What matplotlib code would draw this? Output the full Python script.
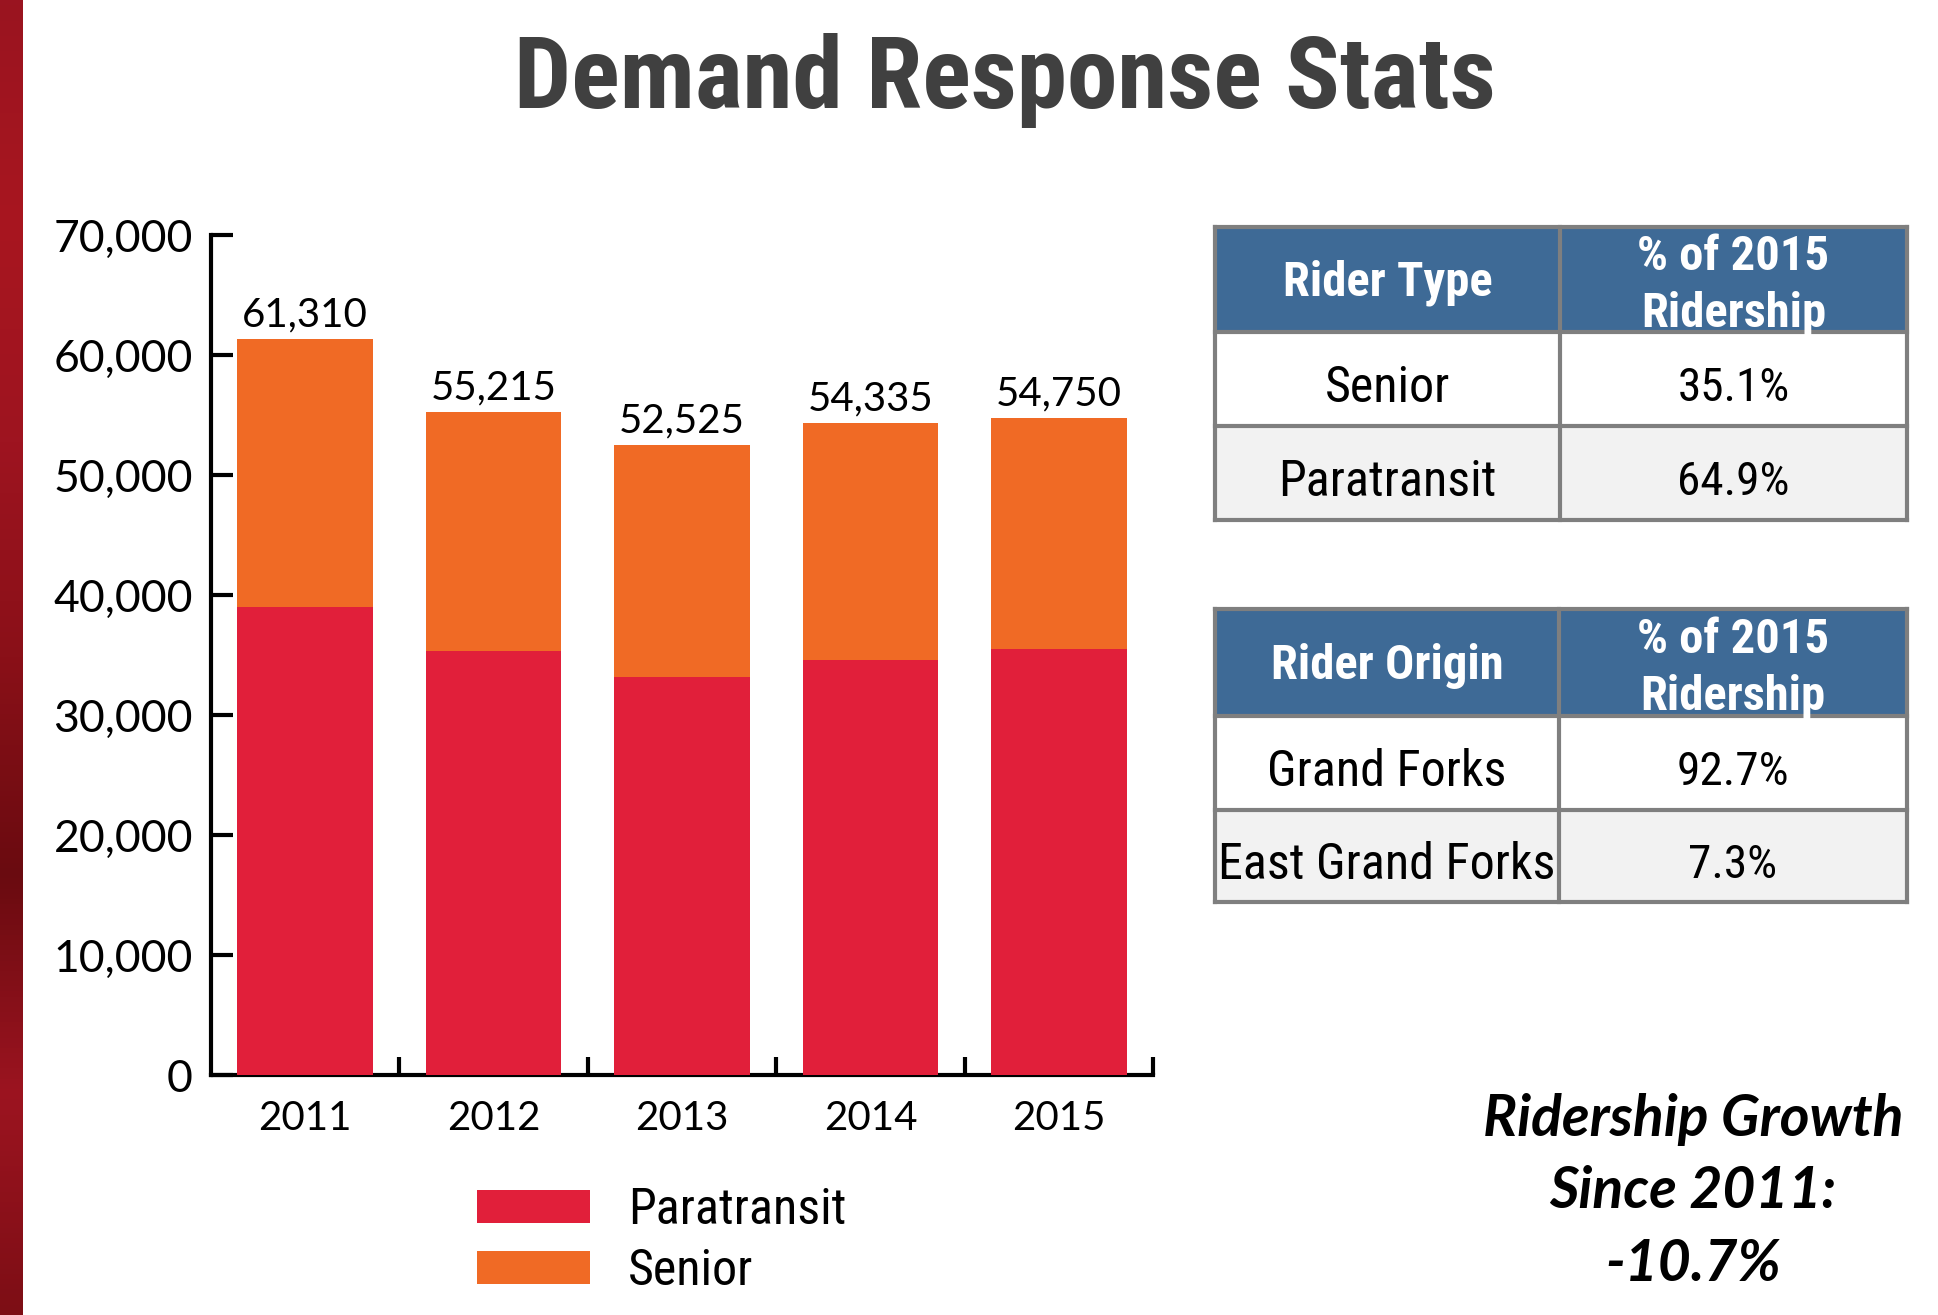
import matplotlib
matplotlib.use("Agg")
import matplotlib.pyplot as plt
import numpy as np
from matplotlib import font_manager
from matplotlib.patches import Rectangle
from matplotlib.colors import LinearSegmentedColormap

# ---------------- data ----------------
years = ["2011", "2012", "2013", "2014", "2015"]
totals = [61310, 55215, 52525, 54335, 54750]
paratransit = [39000, 35350, 33150, 34580, 35540]
senior = [t - p for t, p in zip(totals, paratransit)]
total_labels = ["61,310", "55,215", "52,525", "54,335", "54,750"]
y_ticks = [0, 10000, 20000, 30000, 40000, 50000, 60000, 70000]
y_tick_labels = ["0", "10,000", "20,000", "30,000", "40,000", "50,000", "60,000", "70,000"]

table1_header = ["Rider Type", "% of 2015\nRidership"]
table1_rows = [["Senior", "35.1%"], ["Paratransit", "64.9%"]]
table2_header = ["Rider Origin", "% of 2015\nRidership"]
table2_rows = [["Grand Forks", "92.7%"], ["East Grand Forks", "7.3%"]]

title = "Demand Response Stats"
growth_text = "Ridership Growth\nSince 2011:\n-10.7%"

# ---------------- fonts ----------------
avail = {f.name for f in font_manager.fontManager.ttflist}
def pick(*names):
    for n in names:
        if n in avail:
            return n
    return "DejaVu Sans"

F_COND = pick("Liberation Sans Narrow", "Roboto Condensed", "Roboto", "DejaVu Sans")
F_AXIS = pick("Lato", "Open Sans", "DejaVu Sans")
F_ITAL = pick("Lato", "Open Sans", "DejaVu Sans")

C_PARA = "#e11f3a"
C_SEN = "#f06a25"
C_HEAD = "#3e6a96"
C_BORDER = "#7f7f7f"

W, H = 1938, 1315
fig = plt.figure(figsize=(W / 100, H / 100), dpi=100)
fig.patch.set_facecolor("white")

# background overlay axes in pixel coords
bg = fig.add_axes([0, 0, 1, 1], zorder=0)
bg.set_xlim(0, W)
bg.set_ylim(H, 0)
bg.axis("off")

# left decorative strip
cmap = LinearSegmentedColormap.from_list("strip", ["#9a1420", "#a8161f", "#9e1420", "#8a1018", "#6a0b10", "#9c1420", "#7d0e15"])
grad = np.linspace(0, 1, 256).reshape(-1, 1)
bg.imshow(grad, cmap=cmap, extent=[0, 23, H, 0], aspect="auto", zorder=1)

# title
bg.text(1005, 80, title, ha="center", va="center", fontsize=73, fontweight="bold",
        family=F_COND, color="#404040")

# ---------------- bar chart ----------------
ax = fig.add_axes([211 / W, 1 - 1075 / H, (1153 - 211) / W, (1075 - 235) / H], zorder=2)
x = np.arange(len(years))
bw = 0.72
b1 = ax.bar(x, paratransit, width=bw, color=C_PARA, label="Paratransit", zorder=1)
b2 = ax.bar(x, senior, width=bw, bottom=paratransit, color=C_SEN, label="Senior", zorder=1)
ax.set_xlim(-0.5, len(years) - 0.5)
ax.set_ylim(0, 70000)
for s in ["top", "right"]:
    ax.spines[s].set_visible(False)
for s in ["left", "bottom"]:
    ax.spines[s].set_linewidth(3)
    ax.spines[s].set_color("black")
    ax.spines[s].set_zorder(0)
ax.set_yticks(y_ticks)
ax.set_yticklabels(y_tick_labels, family=F_AXIS, fontsize=32)
ax.tick_params(axis="y", direction="in", length=16, width=3, pad=13)
ax.set_xticks(x)
ax.set_xticklabels(years, family=F_AXIS, fontsize=29)
ax.tick_params(axis="x", which="major", length=0, pad=18)
ax.set_xticks(np.arange(len(years)) + 0.5, minor=True)
ax.tick_params(axis="x", which="minor", direction="in", length=13, width=3)
ax.set_facecolor("none")

for xi, t, lab in zip(x, totals, total_labels):
    ax.annotate(lab, (xi, t), xytext=(0, 4), textcoords="offset points",
                ha="center", va="bottom", family=F_AXIS, fontsize=29)

leg = fig.legend(handles=[b1, b2], labels=["Paratransit", "Senior"],
                 loc="upper left", bbox_to_anchor=(477 / W, 1 - 1186 / H),
                 frameon=False, prop={"family": F_COND, "size": 36},
                 handlelength=2.26, handleheight=0.62, handletextpad=0.76,
                 labelspacing=0.26, borderpad=0, borderaxespad=0)

# ---------------- tables ----------------
def draw_table(x0, xm, x1, ys, header, rows):
    bg.add_patch(Rectangle((x0, ys[0]), x1 - x0, ys[1] - ys[0], facecolor=C_HEAD, edgecolor="none", zorder=2))
    fills = ["white", "#f2f2f2"]
    for i in range(len(rows)):
        bg.add_patch(Rectangle((x0, ys[i + 1]), x1 - x0, ys[i + 2] - ys[i + 1],
                               facecolor=fills[i % 2], edgecolor="none", zorder=2))
    for yy in ys:
        bg.plot([x0, x1], [yy, yy], color=C_BORDER, lw=3, zorder=3, solid_capstyle="projecting")
    for xx in [x0, xm, x1]:
        bg.plot([xx, xx], [ys[0], ys[-1]], color=C_BORDER, lw=3, zorder=3, solid_capstyle="projecting")
    cx = [(x0 + xm) / 2, (xm + x1) / 2]
    hy = (ys[0] + ys[1]) / 2
    for j, (c, txt) in enumerate(zip(cx, header)):
        bg.text(c, hy + (3 if j == 0 else 6), txt, ha="center", va="center", color="white", fontsize=35,
                fontweight="bold", family=F_COND, linespacing=1.33, zorder=4)
    for i, row in enumerate(rows):
        ry = (ys[i + 1] + ys[i + 2]) / 2 + 9
        for j, (c, txt) in enumerate(zip(cx, row)):
            bg.text(c, ry, txt, ha="center", va="center", color="black",
                    fontsize=36 if j == 0 else 34, family=F_COND, zorder=4)

draw_table(1215, 1560, 1907, [227, 332, 426, 520], table1_header, table1_rows)
draw_table(1215, 1559, 1907, [609, 716, 810, 902], table2_header, table2_rows)

# growth text
bg.text(1693, 1192, growth_text, ha="center", va="center", fontsize=41,
        fontweight="bold", fontstyle="italic", family=F_ITAL, linespacing=1.46, zorder=4)

fig.savefig("out.png", dpi=100, facecolor="white")
